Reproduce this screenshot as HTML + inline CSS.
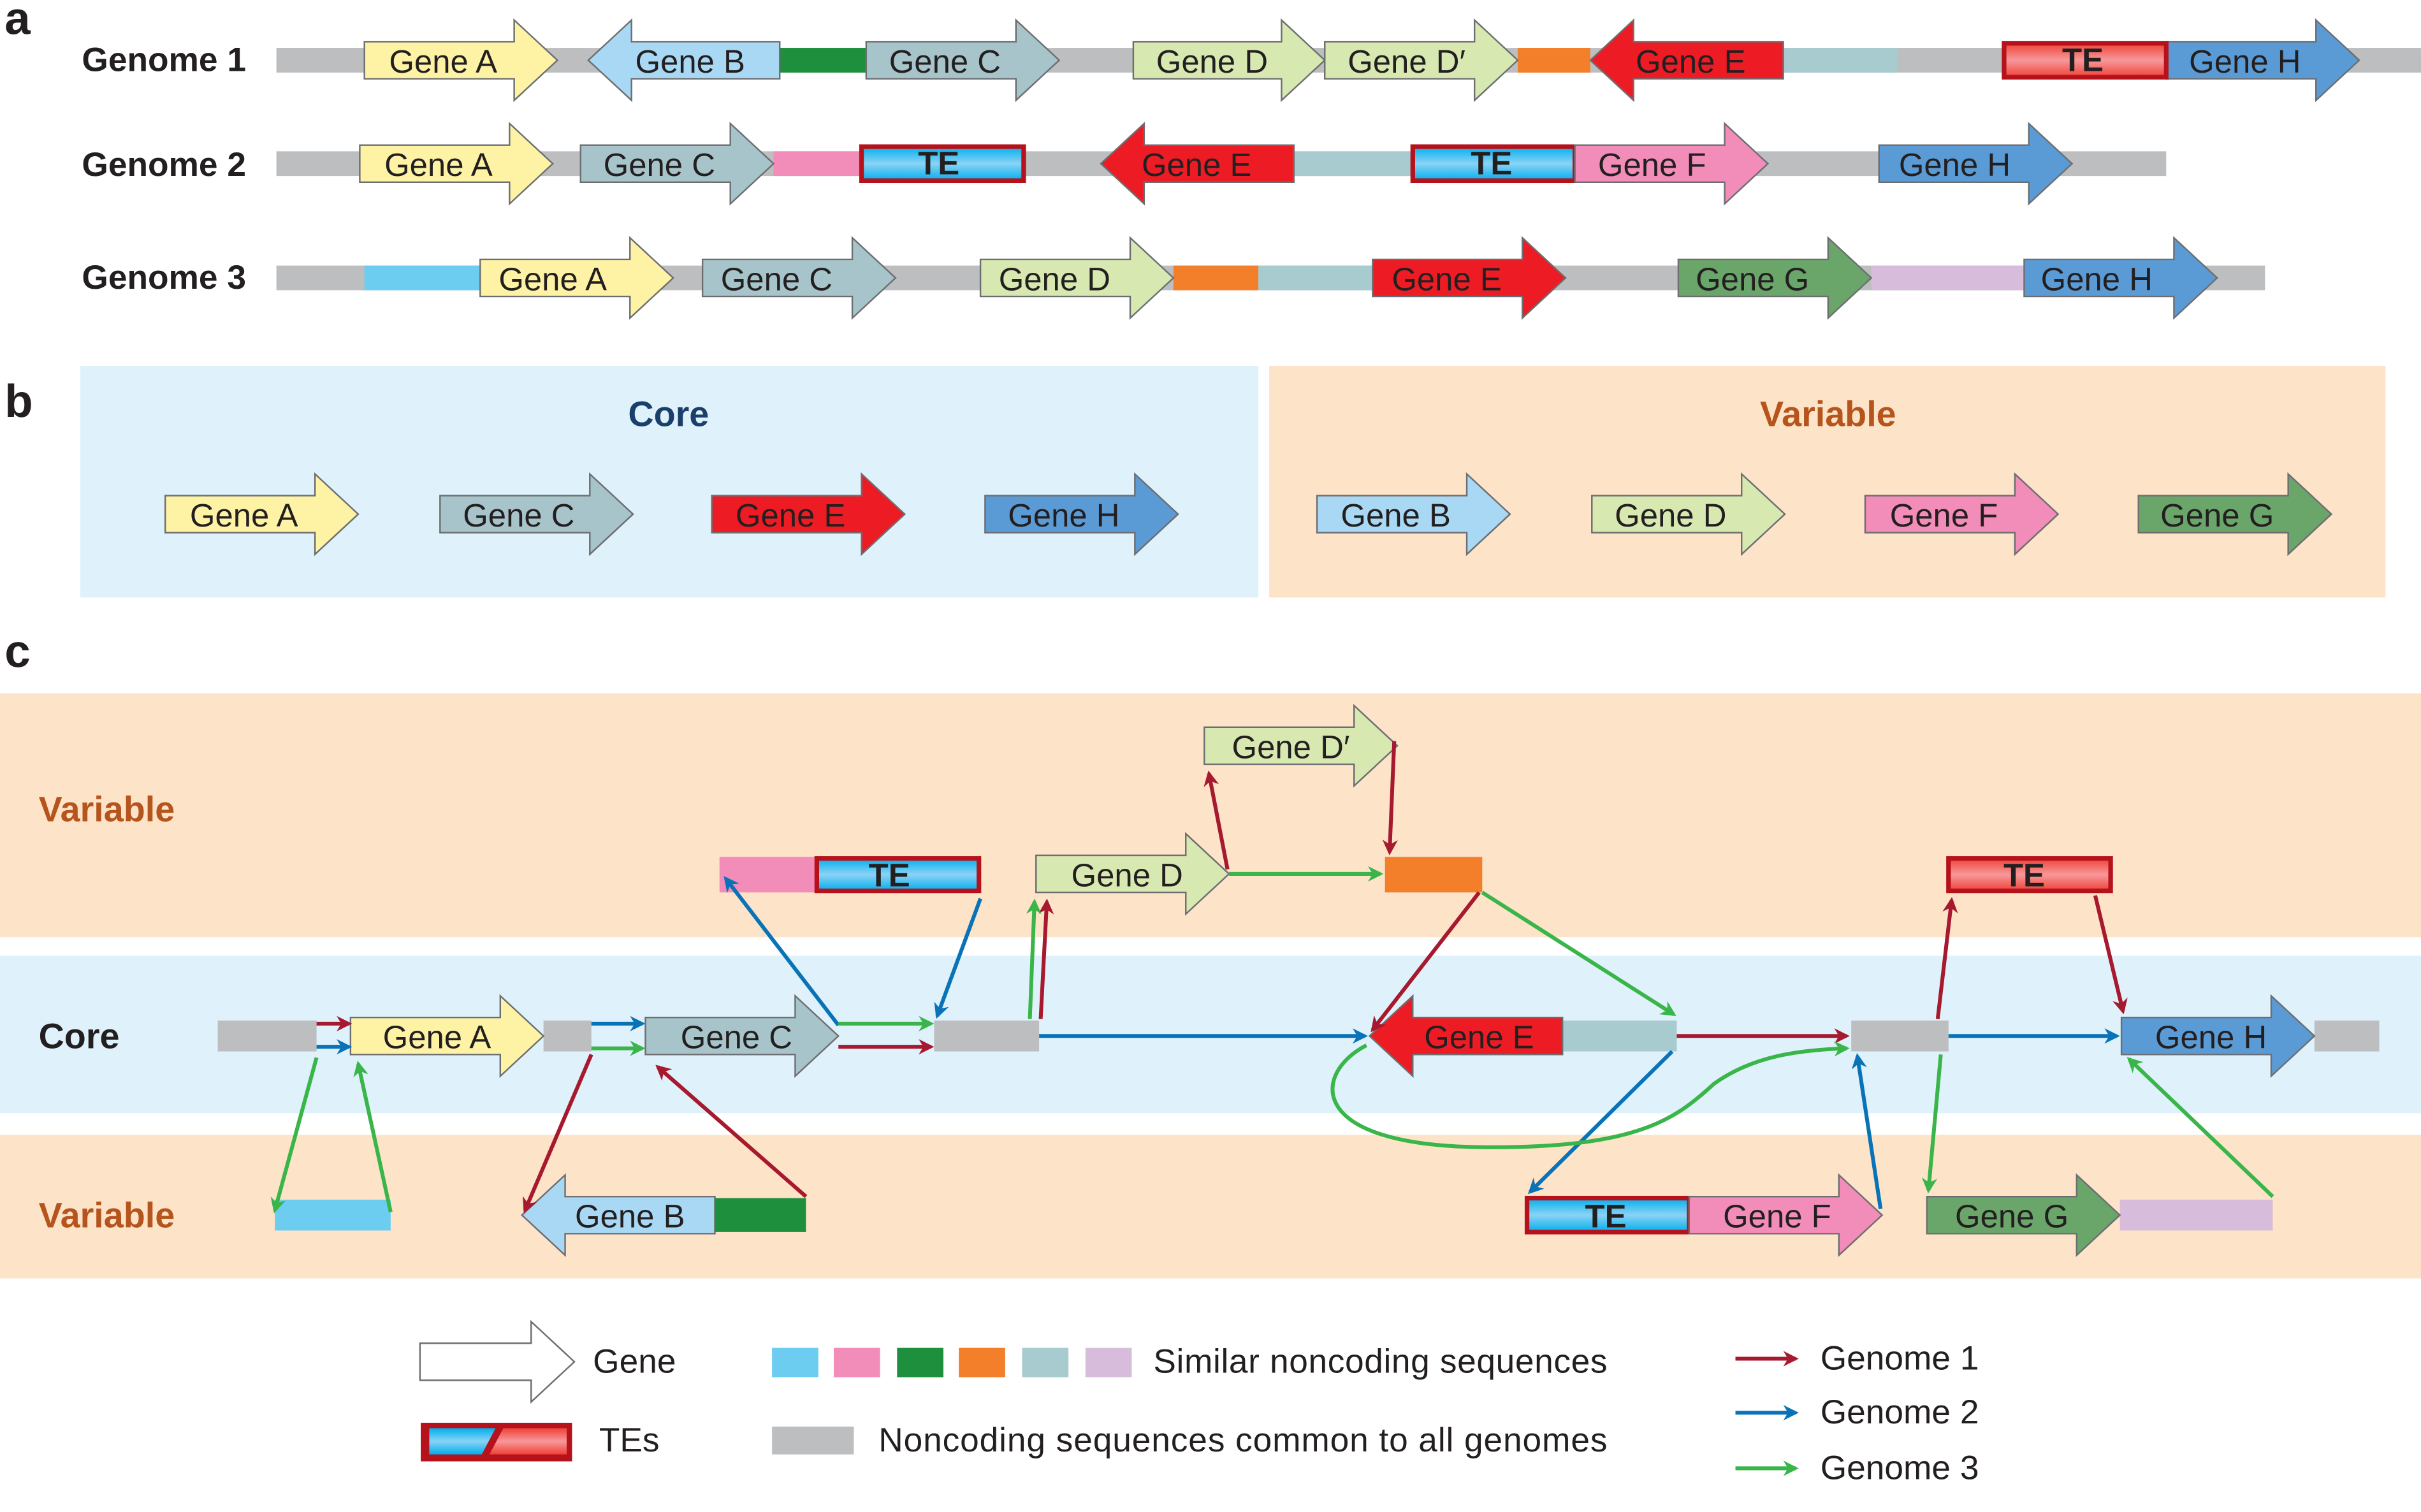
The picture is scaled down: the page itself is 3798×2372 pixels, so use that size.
<!DOCTYPE html>
<html><head><meta charset="utf-8"><style>
html,body{margin:0;padding:0;background:#fff;}
svg{display:block;}
text{font-family:"Liberation Sans",sans-serif;}
.g{font-size:21px;fill:#231f20;}
.b{font-weight:bold;}
.lg{font-size:22px;}
</style></head><body>
<svg width="3798" height="2372" viewBox="0 0 1568 979.3" xmlns="http://www.w3.org/2000/svg">
<defs>
<linearGradient id="tb" x1="0" y1="0" x2="0" y2="1"><stop offset="0" stop-color="#00aeef"/><stop offset="0.5" stop-color="#8ad3f5"/><stop offset="1" stop-color="#00aeef"/></linearGradient>
<linearGradient id="tr" x1="0" y1="0" x2="0" y2="1"><stop offset="0" stop-color="#ef4136"/><stop offset="0.5" stop-color="#f7989a"/><stop offset="1" stop-color="#ef4136"/></linearGradient>
<marker id="mr" markerWidth="10" markerHeight="10" refX="8" refY="5" orient="auto" markerUnits="userSpaceOnUse" viewBox="0 0 10 10"><path d="M0,0 L10,5 L0,10 L3,5z" fill="#a6192e"/></marker>
<marker id="mb" markerWidth="10" markerHeight="10" refX="8" refY="5" orient="auto" markerUnits="userSpaceOnUse" viewBox="0 0 10 10"><path d="M0,0 L10,5 L0,10 L3,5z" fill="#0a73b8"/></marker>
<marker id="mg" markerWidth="10" markerHeight="10" refX="8" refY="5" orient="auto" markerUnits="userSpaceOnUse" viewBox="0 0 10 10"><path d="M0,0 L10,5 L0,10 L3,5z" fill="#3ab54a"/></marker>
</defs>
<g stroke="#6d6e71" stroke-width="1">
<rect x="52" y="237" width="763" height="150" fill="#dff2fb" stroke="none"/>
<rect x="822" y="237" width="723" height="150" fill="#fde3c8" stroke="none"/>
<rect x="0" y="449" width="1568" height="158" fill="#fde3c8" stroke="none"/>
<rect x="0" y="619" width="1568" height="102" fill="#dff2fb" stroke="none"/>
<rect x="0" y="735" width="1568" height="93" fill="#fde3c8" stroke="none"/>

<rect x="179" y="31" width="1389" height="16" fill="#bcbec0" stroke="none"/>
<rect x="179" y="98" width="1224" height="16" fill="#bcbec0" stroke="none"/>
<rect x="179" y="172" width="1288" height="16" fill="#bcbec0" stroke="none"/>
<g stroke="none">
<rect x="505" y="31" width="56" height="16" fill="#1e8f3c"/>
<rect x="983" y="31" width="47" height="16" fill="#f37f2a"/>
<rect x="1155" y="31" width="74" height="16" fill="#a8cbd0"/>
<rect x="501" y="98" width="56" height="16" fill="#f28cb8"/>
<rect x="838" y="98" width="76" height="16" fill="#a8cbd0"/>
<rect x="236" y="172" width="75" height="16" fill="#6ccdf0"/>
<rect x="760" y="172" width="55" height="16" fill="#f37f2a"/>
<rect x="815" y="172" width="74" height="16" fill="#a8cbd0"/>
<rect x="1212" y="172" width="99" height="16" fill="#d7bddb"/>
</g>
<polygon points="236,27 333,27 333,13 361,39 333,65 333,51 236,51" fill="#fef3a5"/>
<polygon points="505,27 409,27 409,13 381,39 409,65 409,51 505,51" fill="#a9d8f5"/>
<polygon points="561,27 658,27 658,13 686,39 658,65 658,51 561,51" fill="#a6c4c9"/>
<polygon points="734,27 830,27 830,13 858,39 830,65 830,51 734,51" fill="#d7e8b0"/>
<polygon points="858,27 955,27 955,13 983,39 955,65 955,51 858,51" fill="#d7e8b0"/>
<polygon points="1155,27 1058,27 1058,13 1030,39 1058,65 1058,51 1155,51" fill="#ed1c24"/>
<polygon points="1403,27 1500,27 1500,13 1528,39 1500,65 1500,51 1403,51" fill="#5b9bd5"/>
<rect x="1298" y="28" width="105" height="22" fill="url(#tr)" stroke="#b5121b" stroke-width="3"/>
<polygon points="233,94 330,94 330,80 358,106 330,132 330,118 233,118" fill="#fef3a5"/>
<polygon points="376,94 473,94 473,80 501,106 473,132 473,118 376,118" fill="#a6c4c9"/>
<rect x="558" y="95" width="105" height="22" fill="url(#tb)" stroke="#b5121b" stroke-width="3"/>
<polygon points="838,94 741,94 741,80 713,106 741,132 741,118 838,118" fill="#ed1c24"/>
<rect x="915" y="95" width="105" height="22" fill="url(#tb)" stroke="#b5121b" stroke-width="3"/>
<polygon points="1020,94 1117,94 1117,80 1145,106 1117,132 1117,118 1020,118" fill="#f28cb8"/>
<polygon points="1217,94 1314,94 1314,80 1342,106 1314,132 1314,118 1217,118" fill="#5b9bd5"/>
<polygon points="311,168 408,168 408,154 436,180 408,206 408,192 311,192" fill="#fef3a5"/>
<polygon points="455,168 552,168 552,154 580,180 552,206 552,192 455,192" fill="#a6c4c9"/>
<polygon points="635,168 732,168 732,154 760,180 732,206 732,192 635,192" fill="#d7e8b0"/>
<polygon points="889,168 986,168 986,154 1014,180 986,206 986,192 889,192" fill="#ed1c24"/>
<polygon points="1087,168 1184,168 1184,154 1212,180 1184,206 1184,192 1087,192" fill="#6aa56a"/>
<polygon points="1311,168 1408,168 1408,154 1436,180 1408,206 1408,192 1311,192" fill="#5b9bd5"/>

<polygon points="107,321 204,321 204,307 232,333 204,359 204,345 107,345" fill="#fef3a5"/>
<polygon points="285,321 382,321 382,307 410,333 382,359 382,345 285,345" fill="#a6c4c9"/>
<polygon points="461,321 558,321 558,307 586,333 558,359 558,345 461,345" fill="#ed1c24"/>
<polygon points="638,321 735,321 735,307 763,333 735,359 735,345 638,345" fill="#5b9bd5"/>
<polygon points="853,321 950,321 950,307 978,333 950,359 950,345 853,345" fill="#a9d8f5"/>
<polygon points="1031,321 1128,321 1128,307 1156,333 1128,359 1128,345 1031,345" fill="#d7e8b0"/>
<polygon points="1208,321 1305,321 1305,307 1333,333 1305,359 1305,345 1208,345" fill="#f28cb8"/>
<polygon points="1385,321 1482,321 1482,307 1510,333 1482,359 1482,345 1385,345" fill="#6aa56a"/>

<g stroke="none" fill="#bcbec0">
<rect x="141" y="661" width="64" height="20"/>
<rect x="352" y="661" width="31" height="20"/>
<rect x="605" y="661" width="68" height="20"/>
<rect x="1199" y="661" width="63" height="20"/>
<rect x="1499" y="661" width="42" height="20"/>
</g>
<rect x="1012" y="661" width="74" height="20" fill="#a8cbd0" stroke="none"/>
<polygon points="227,659 324,659 324,645 352,671 324,697 324,683 227,683" fill="#fef3a5"/>
<polygon points="418,659 515,659 515,645 543,671 515,697 515,683 418,683" fill="#a6c4c9"/>
<polygon points="1012,659 915,659 915,645 887,671 915,697 915,683 1012,683" fill="#ed1c24"/>
<polygon points="1374,659 1471,659 1471,645 1499,671 1471,697 1471,683 1374,683" fill="#5b9bd5"/>
<rect x="466" y="555" width="62" height="23" fill="#f28cb8" stroke="none"/>
<rect x="529" y="556" width="105" height="21" fill="url(#tb)" stroke="#b5121b" stroke-width="3"/>
<polygon points="671,554 768,554 768,540 796,566 768,592 768,578 671,578" fill="#d7e8b0"/>
<polygon points="780,471 877,471 877,457 905,483 877,509 877,495 780,495" fill="#d7e8b0"/>
<rect x="897" y="555" width="63" height="23" fill="#f37f2a" stroke="none"/>
<rect x="1262" y="556" width="105" height="21" fill="url(#tr)" stroke="#b5121b" stroke-width="3"/>
<rect x="178" y="777" width="75" height="20" fill="#6ccdf0" stroke="none"/>
<polygon points="463,775 366,775 366,761 338,787 366,813 366,799 463,799" fill="#a9d8f5"/>
<rect x="463" y="776" width="59" height="22" fill="#1e8f3c" stroke="none"/>
<rect x="989" y="776" width="105" height="22" fill="url(#tb)" stroke="#b5121b" stroke-width="3"/>
<polygon points="1094,775 1191,775 1191,761 1219,787 1191,813 1191,799 1094,799" fill="#f28cb8"/>
<rect x="1373" y="777" width="99" height="20" fill="#d7bddb" stroke="none"/>
<polygon points="1248,775 1345,775 1345,761 1373,787 1345,813 1345,799 1248,799" fill="#6aa56a"/>

<polygon points="272,870 344,870 344,856 372,882 344,908 344,894 272,894" fill="#fff"/>
<rect x="272.5" y="921.5" width="98" height="25" fill="#b5121b" stroke="none"/>
<polygon points="278,925 321,925 312,942 278,942" fill="url(#tb)" stroke="none"/>
<polygon points="326,925 367,925 367,942 317,942" fill="url(#tr)" stroke="none"/>
<g stroke="none">
<rect x="500" y="873" width="30" height="19" fill="#6ccdf0"/>
<rect x="540" y="873" width="30" height="19" fill="#f28cb8"/>
<rect x="581" y="873" width="30" height="19" fill="#1e8f3c"/>
<rect x="621" y="873" width="30" height="19" fill="#f37f2a"/>
<rect x="662" y="873" width="30" height="19" fill="#a8cbd0"/>
<rect x="703" y="873" width="30" height="19" fill="#d7bddb"/>
<rect x="500" y="924" width="53" height="18" fill="#bcbec0"/>
</g>
</g>

<g fill="none" stroke-width="2.5">
<g stroke="#a6192e" marker-end="url(#mr)">
<line x1="205" y1="663" x2="226" y2="663"/>
<line x1="383" y1="683" x2="340" y2="784"/>
<line x1="522" y1="775" x2="426" y2="691"/>
<line x1="543" y1="678" x2="603" y2="678"/>
<line x1="674" y1="660" x2="678" y2="584"/>
<line x1="795" y1="563" x2="783" y2="501"/>
<line x1="903" y1="480" x2="900" y2="552"/>
<line x1="958" y1="578" x2="889" y2="667"/>
<line x1="1086" y1="671" x2="1196" y2="671"/>
<line x1="1255" y1="660" x2="1264" y2="583"/>
<line x1="1357" y1="580" x2="1375" y2="655"/>
<line x1="1124" y1="880" x2="1163" y2="880"/>
</g>
<g stroke="#0a73b8" marker-end="url(#mb)">
<line x1="205" y1="678" x2="226" y2="678"/>
<line x1="383" y1="663" x2="416" y2="663"/>
<line x1="543" y1="664" x2="470" y2="569"/>
<line x1="635" y1="582" x2="607" y2="658"/>
<line x1="673" y1="671" x2="884" y2="671"/>
<line x1="1083" y1="681" x2="991" y2="772"/>
<line x1="1218" y1="783" x2="1203" y2="684"/>
<line x1="1262" y1="671" x2="1371" y2="671"/>
<line x1="1124" y1="915" x2="1163" y2="915"/>
</g>
<g stroke="#3ab54a" marker-end="url(#mg)">
<line x1="205" y1="685" x2="178" y2="784"/>
<line x1="253" y1="785" x2="232" y2="689"/>
<line x1="383" y1="679" x2="416" y2="679"/>
<line x1="543" y1="663" x2="603" y2="663"/>
<line x1="667" y1="660" x2="670" y2="584"/>
<line x1="796" y1="566" x2="894" y2="566"/>
<line x1="960" y1="578" x2="1084" y2="657"/>
<path d="M885,677 C850,695 845,742 960,743 C1060,744 1085,725 1110,702 C1135,684 1165,680 1196,679"/>
<line x1="1257" y1="683" x2="1249" y2="771"/>
<line x1="1472" y1="775" x2="1379" y2="686"/>
<line x1="1124" y1="951" x2="1163" y2="951"/>
</g>
</g>

<g class="g">
<text x="3" y="22" class="b" style="font-size:30px">a</text>
<text x="3" y="270" class="b" style="font-size:30px">b</text>
<text x="3" y="432" class="b" style="font-size:30px">c</text>
<text x="53" y="46" class="b" style="font-size:22px">Genome 1</text>
<text x="53" y="114" class="b" style="font-size:22px">Genome 2</text>
<text x="53" y="187" class="b" style="font-size:22px">Genome 3</text>
<g text-anchor="middle">
<text x="287" y="47">Gene A</text><text x="447" y="47">Gene B</text><text x="612" y="47">Gene C</text>
<text x="785" y="47">Gene D</text><text x="911" y="47">Gene D′</text><text x="1095" y="47">Gene E</text>
<text x="1454" y="47">Gene H</text><text x="1349" y="46" class="b">TE</text>
<text x="284" y="114">Gene A</text><text x="427" y="114">Gene C</text><text x="608" y="113" class="b">TE</text>
<text x="775" y="114">Gene E</text><text x="966" y="113" class="b">TE</text><text x="1070" y="114">Gene F</text>
<text x="1266" y="114">Gene H</text>
<text x="358" y="188">Gene A</text><text x="503" y="188">Gene C</text><text x="683" y="188">Gene D</text>
<text x="937" y="188">Gene E</text><text x="1135" y="188">Gene G</text><text x="1358" y="188">Gene H</text>
<text x="158" y="341">Gene A</text><text x="336" y="341">Gene C</text><text x="512" y="341">Gene E</text><text x="689" y="341">Gene H</text>
<text x="904" y="341">Gene B</text><text x="1082" y="341">Gene D</text><text x="1259" y="341">Gene F</text><text x="1436" y="341">Gene G</text>
<text x="433" y="276" class="b" style="font-size:23px;fill:#1a3f6b">Core</text>
<text x="1184" y="276" class="b" style="font-size:23px;fill:#b5541c">Variable</text>
<text x="283" y="679">Gene A</text><text x="477" y="679">Gene C</text><text x="958" y="679">Gene E</text><text x="1432" y="679">Gene H</text>
<text x="730" y="574">Gene D</text><text x="836" y="491">Gene D′</text>
<text x="576" y="574" class="b">TE</text><text x="1311" y="574" class="b">TE</text>
<text x="408" y="795">Gene B</text><text x="1040" y="795" class="b">TE</text><text x="1151" y="795">Gene F</text><text x="1303" y="795">Gene G</text>
</g>
<text x="25" y="532" class="b" style="font-size:23px;fill:#b5541c">Variable</text>
<text x="25" y="679" class="b" style="font-size:23px">Core</text>
<text x="25" y="795" class="b" style="font-size:23px;fill:#b5541c">Variable</text>
<text x="384" y="889" class="lg">Gene</text>
<text x="388" y="940" class="lg">TEs</text>
<text x="747" y="889" class="lg" textLength="294">Similar noncoding sequences</text>
<text x="569" y="940" class="lg" textLength="472">Noncoding sequences common to all genomes</text>
<text x="1179" y="887" class="lg">Genome 1</text>
<text x="1179" y="922" class="lg">Genome 2</text>
<text x="1179" y="958" class="lg">Genome 3</text>
</g>
</svg>
</body></html>
